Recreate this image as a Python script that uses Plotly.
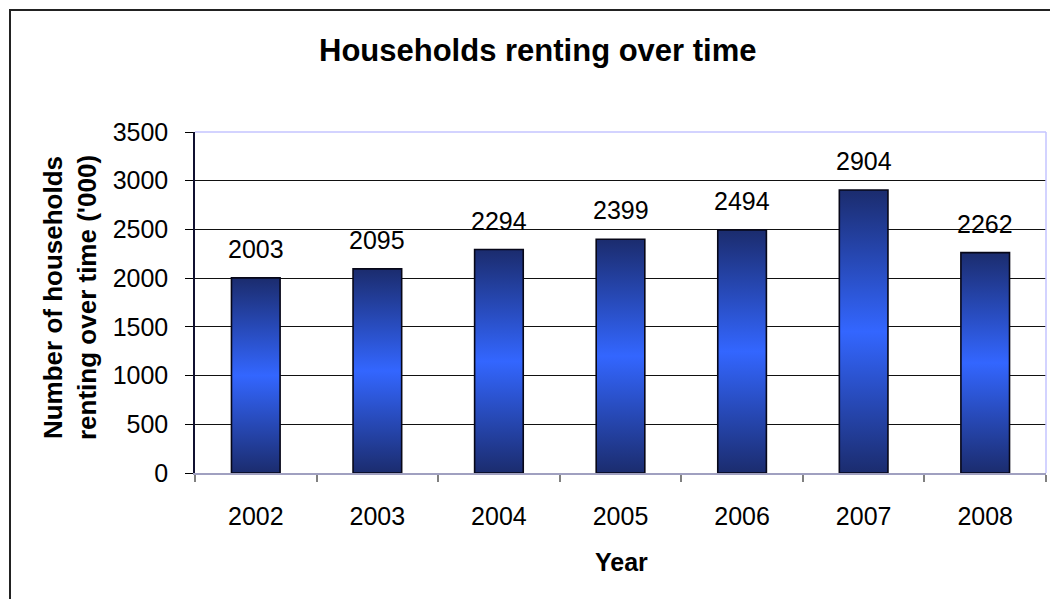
import plotly.graph_objects as go

# Households renting, thousands
years = ["2002", "2003", "2004", "2005", "2006", "2007", "2008"]
households = [2003, 2095, 2294, 2399, 2494, 2904, 2262]

W, H = 1050, 599
PLOT_L, PLOT_R, PLOT_T, PLOT_B = 195, 1046, 132, 473
BAR_W = 0.4
FONT = "Arial, Liberation Sans, sans-serif"


def px_x(px):
    return (px - PLOT_L) / (PLOT_R - PLOT_L)


def px_y(py):
    return (PLOT_B - py) / (PLOT_B - PLOT_T)


fig = go.Figure()

# invisible bars carry the hover values
fig.add_trace(go.Bar(
    x=list(range(len(years))),
    y=households,
    width=BAR_W,
    marker=dict(color="rgba(0,0,0,0)", line=dict(width=0)),
    showlegend=False,
    hovertemplate="%{y}<extra></extra>",
))

# gradient-filled bar bodies with dark outline: dark edges, bright blue centre
for i, v in enumerate(households):
    x0, x1 = i - BAR_W / 2, i + BAR_W / 2
    fig.add_trace(go.Scatter(
        x=[x0, x1, x1, x0, x0],
        y=[0, 0, v, v, 0],
        mode="lines",
        line=dict(width=1.6, color="#070718"),
        fill="toself",
        fillgradient=dict(
            type="vertical",
            start=0,
            stop=v,
            colorscale=[[0, "#1b2c6e"], [0.5, "#3366ff"], [1, "#1b2c6e"]],
        ),
        hoverinfo="skip",
        showlegend=False,
    ))

annotations = []
for i, v in enumerate(households):
    annotations.append(dict(
        x=i, y=v, xref="x", yref="y", text=str(v), showarrow=False,
        yanchor="bottom", yshift=13, font=dict(family=FONT, size=25, color="black"),
    ))

annotations.append(dict(
    x=px_x(538), y=px_y(50), xref="paper", yref="paper",
    text="<b>Households renting over time</b>", showarrow=False,
    xanchor="center", yanchor="middle",
    font=dict(family=FONT, size=31, color="black"),
))
annotations.append(dict(
    x=px_x(70), y=px_y(298), xref="paper", yref="paper",
    text="<b>Number of households<br>renting over time ('000)</b>", showarrow=False,
    textangle=-90, xanchor="center", yanchor="middle",
    font=dict(family=FONT, size=26, color="black"),
))
annotations.append(dict(
    x=px_x(621), y=px_y(562), xref="paper", yref="paper",
    text="<b>Year</b>", showarrow=False,
    xanchor="center", yanchor="middle",
    font=dict(family=FONT, size=25, color="black"),
))

shapes = [
    # outer chart frame
    dict(type="rect", xref="paper", yref="paper",
         x0=px_x(10), x1=px_x(1062), y0=px_y(10), y1=px_y(612),
         line=dict(color="#222222", width=2), fillcolor="rgba(0,0,0,0)", layer="above"),
    # plot area top and right edges
    dict(type="line", xref="paper", yref="paper", x0=0, x1=1, y0=1, y1=1,
         line=dict(color="#c4c4ff", width=1.5), layer="above"),
    dict(type="line", xref="paper", yref="paper", x0=1, x1=1, y0=0, y1=1,
         line=dict(color="#c4c4ff", width=1.5), layer="above"),
]

fig.update_layout(
    width=W, height=H,
    margin=dict(l=PLOT_L, r=W - PLOT_R, t=PLOT_T, b=H - PLOT_B, pad=0),
    paper_bgcolor="white", plot_bgcolor="white",
    font=dict(family=FONT, size=25, color="black"),
    annotations=annotations,
    shapes=shapes,
    bargap=0,
)

fig.update_xaxes(
    range=[-0.5, len(years) - 0.5],
    tickmode="array", tickvals=list(range(len(years))), ticktext=years,
    ticks="", ticklabelstandoff=20,
    minor=dict(tick0=0.5, dtick=1, ticks="outside", ticklen=7, tickcolor="#808080", tickwidth=1.5, showgrid=False),
    showline=True, linecolor="#a0a0c0", linewidth=1.5,
    showgrid=False, zeroline=False, fixedrange=True,
    tickfont=dict(family=FONT, size=25, color="black"),
)
fig.update_yaxes(
    range=[0, 3500], dtick=500, tick0=0,
    ticks="outside", ticklen=8, tickcolor="black", tickwidth=1.2,
    ticklabelstandoff=12,
    showline=True, linecolor="#101030", linewidth=1.5,
    showgrid=True, gridcolor="#111111", gridwidth=1,
    zeroline=False, fixedrange=True,
    tickfont=dict(family=FONT, size=25, color="black"),
)

fig.write_html("out.html")
